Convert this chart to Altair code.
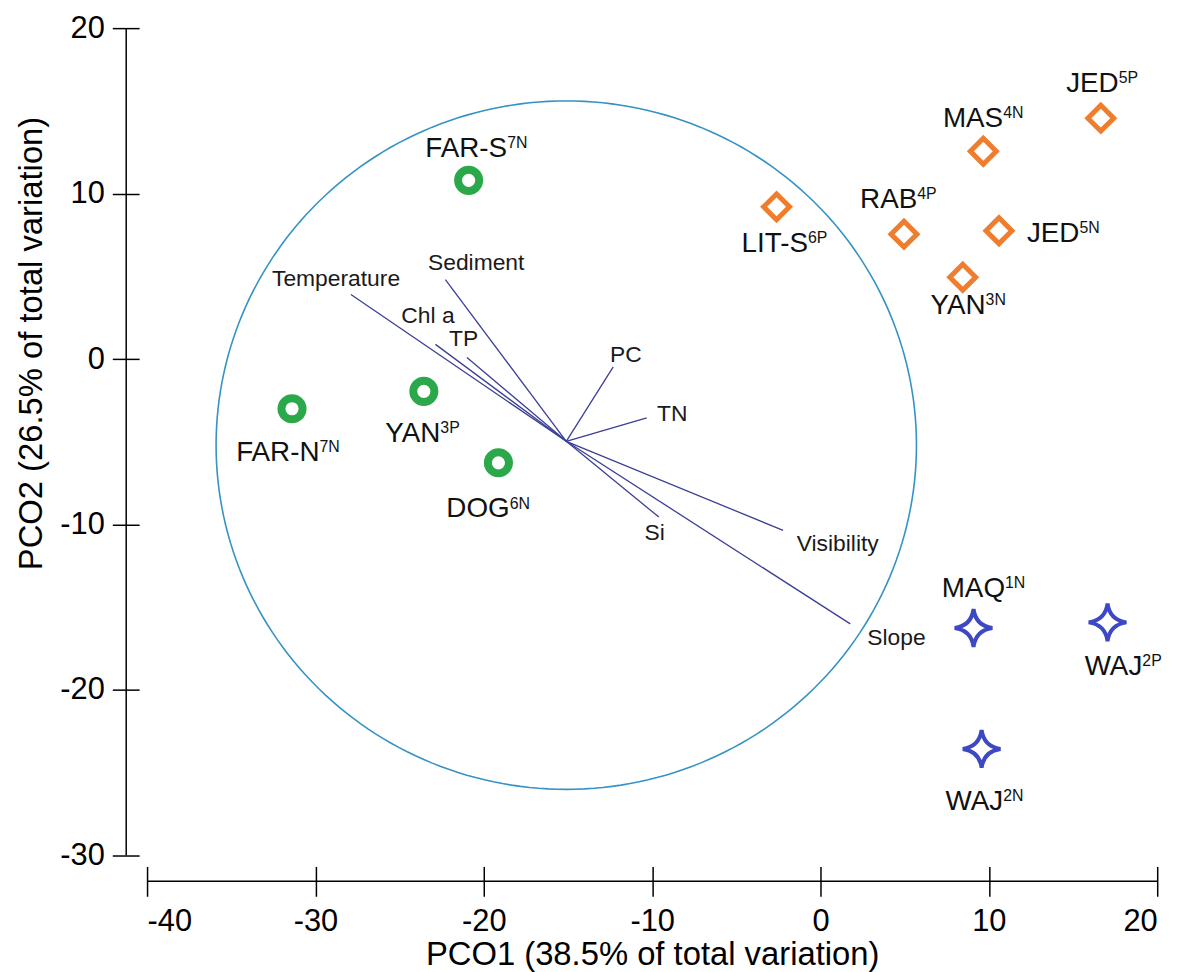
import altair as alt
import numpy as np
import pandas as pd

# ---------------- data ----------------
site_names = ["FAR-S", "FAR-N", "YAN", "DOG", "LIT-S", "RAB", "MAS", "JED", "JED", "YAN", "MAQ", "WAJ", "WAJ"]
site_sups = ["7N", "7N", "3P", "6N", "6P", "4P", "4N", "5P", "5N", "3N", "1N", "2P", "2N"]
site_group = ["circle"] * 4 + ["diamond"] * 6 + ["star"] * 3
pco1 = [-20.9, -31.39, -23.56, -19.13, -2.61, 4.96, 9.67, 16.65, 10.6, 8.45, 9.09, 17.05, 9.57]
pco2 = [10.80, -3.0, -1.95, -6.27, 9.2, 7.55, 12.56, 14.56, 7.76, 4.95, -16.25, -15.91, -23.56]

var_names = ["Temperature", "Sediment", "Chl a", "TP", "PC", "TN", "Visibility", "Slope", "Si"]
var_x = [-27.89, -22.28, -22.87, -21.0, -12.31, -10.32, -2.22, 1.77, -9.6]
var_y = [3.90, 4.80, 0.89, 0.09, -0.47, -3.55, -10.35, -16.0, -9.55]
vec_origin = (-15.1, -4.97)

circle_center = (-15.1, -5.2)
circle_radius = 20.8

x_ticks = [-40, -30, -20, -10, 0, 10, 20]
y_ticks = [-30, -20, -10, 0, 10, 20]
x_title = "PCO1 (38.5% of total variation)"
y_title = "PCO2 (26.5% of total variation)"

# ---------------- label placement (pixel offsets, styling only) ----------------
site_label_off = [(38.8, -24), (27.7, 53), (16.6, 51), (11.3, 55), (31.6, 45), (13.3, -26),
                  (20, -24), (18, -26), (81, 11), (23, 37), (31.7, -31), (35, 53), (21.7, 61)]
var_label_off = [(-15, -9), (31, -10), (-7.5, -21.6), (-3.3, -11.7), (12.7, -5.3), (25.7, 2.7),
                 (55, 21), (46.5, 21), (-4.3, 22.7)]

FONT = "Liberation Sans"
W, H = 1017, 833

sites = pd.DataFrame({"id": range(len(site_names)), "name": site_names, "sup": site_sups,
                      "group": site_group, "x": pco1, "y": pco2})
vecs = pd.DataFrame({"id": range(len(var_names)), "name": var_names, "x": var_x, "y": var_y,
                     "x0": vec_origin[0], "y0": vec_origin[1]})
theta = np.linspace(0, 2 * np.pi, 241)
circ = pd.DataFrame({"o": range(len(theta)),
                     "x": circle_center[0] + circle_radius * np.cos(theta),
                     "y": circle_center[1] + circle_radius * np.sin(theta)})
span = pd.DataFrame({"xa": [min(x_ticks)], "xb": [max(x_ticks)],
                     "ya": [min(y_ticks)], "yb": [max(y_ticks)]})

xs = alt.Scale(domain=[min(x_ticks), max(x_ticks)], nice=False, zero=False)
ys = alt.Scale(domain=[min(y_ticks), max(y_ticks)], nice=False, zero=False)

# ticks cross the axis line: long ticks, axis line drawn as a rule in the middle of them
xaxis = alt.Axis(values=x_ticks, offset=11, tickSize=30, tickWidth=1.5, tickColor="black",
                 domain=False, grid=False, labelExpr="'' + datum.value",
                 labelFont=FONT, labelFontSize=31, labelColor="black", labelPadding=10,
                 titleFont=FONT, titleFontSize=33, titleFontWeight="normal", titleColor="black",
                 titlePadding=3)
yaxis = alt.Axis(values=y_ticks, offset=8, tickSize=27, tickWidth=1.5, tickColor="black",
                 domain=False, grid=False, labelExpr="'' + datum.value",
                 labelFont=FONT, labelFontSize=31, labelColor="black", labelPadding=8,
                 titleFont=FONT, titleFontSize=33, titleFontWeight="normal", titleColor="black",
                 titlePadding=11, titleY=317)

circle_layer = alt.Chart(circ).mark_line(color="#3592C4", strokeWidth=1.6).encode(
    x=alt.X("x:Q", scale=xs, axis=xaxis, title=x_title),
    y=alt.Y("y:Q", scale=ys, axis=yaxis, title=y_title),
    order="o:Q",
)

xline = alt.Chart(span).mark_rule(color="black", strokeWidth=1.5).encode(
    x=alt.X("xa:Q", scale=xs), x2="xb:Q", y=alt.value(H + 26))
yline = alt.Chart(span).mark_rule(color="black", strokeWidth=1.5).encode(
    y=alt.Y("ya:Q", scale=ys), y2="yb:Q", x=alt.value(-21))

vec_layer = alt.Chart(vecs).mark_rule(color="#3B3F94", strokeWidth=1.3).encode(
    x=alt.X("x0:Q", scale=xs), y=alt.Y("y0:Q", scale=ys), x2="x:Q", y2="y:Q")

star_path = "M0,-1 Q0.12,-0.12 1,0 Q0.12,0.12 0,1 Q-0.12,0.12 -1,0 Q-0.12,-0.12 0,-1 Z"
ring = alt.Chart(sites).transform_filter(alt.datum.group == "circle").mark_point(
    shape="circle", filled=False, size=452, strokeWidth=8, color="#2AA84A", opacity=1).encode(
    x=alt.X("x:Q", scale=xs), y=alt.Y("y:Q", scale=ys))
diam = alt.Chart(sites).transform_filter(alt.datum.group == "diamond").mark_point(
    shape="diamond", filled=False, size=680, strokeWidth=5, color="#EF7D2D", opacity=1).encode(
    x=alt.X("x:Q", scale=xs), y=alt.Y("y:Q", scale=ys))
star = alt.Chart(sites).transform_filter(alt.datum.group == "star").mark_point(
    shape=star_path, filled=False, size=1444, strokeWidth=4, color="#3D48C4", opacity=1).encode(
    x=alt.X("x:Q", scale=xs), y=alt.Y("y:Q", scale=ys))

layers = [circle_layer, xline, yline, vec_layer, ring, diam, star]

for i, (dx, dy) in enumerate(site_label_off):
    base = alt.Chart(sites).transform_filter(alt.datum.id == i).mark_text(
        align="right", baseline="alphabetic", dx=dx, dy=dy, font=FONT, fontSize=28,
        color="#111111").encode(x=alt.X("x:Q", scale=xs), y=alt.Y("y:Q", scale=ys), text="name:N")
    sup = alt.Chart(sites).transform_filter(alt.datum.id == i).mark_text(
        align="left", baseline="alphabetic", dx=dx, dy=dy - 9, font=FONT, fontSize=16,
        color="#111111").encode(x=alt.X("x:Q", scale=xs), y=alt.Y("y:Q", scale=ys), text="sup:N")
    layers += [base, sup]

for i, (dx, dy) in enumerate(var_label_off):
    t = alt.Chart(vecs).transform_filter(alt.datum.id == i).mark_text(
        align="center", baseline="alphabetic", dx=dx, dy=dy, font=FONT, fontSize=23,
        color="#1a1a1a").encode(x=alt.X("x:Q", scale=xs), y=alt.Y("y:Q", scale=ys), text="name:N")
    layers.append(t)

chart = alt.layer(*layers).properties(
    width=W, height=H,
    autosize=alt.AutoSizeParams(type="none"),
    padding={"left": 140, "top": 17, "right": 31, "bottom": 114},
    background="white",
).configure_view(strokeWidth=0)

chart.save("out.html", embed_options={"renderer": "svg", "actions": False})
